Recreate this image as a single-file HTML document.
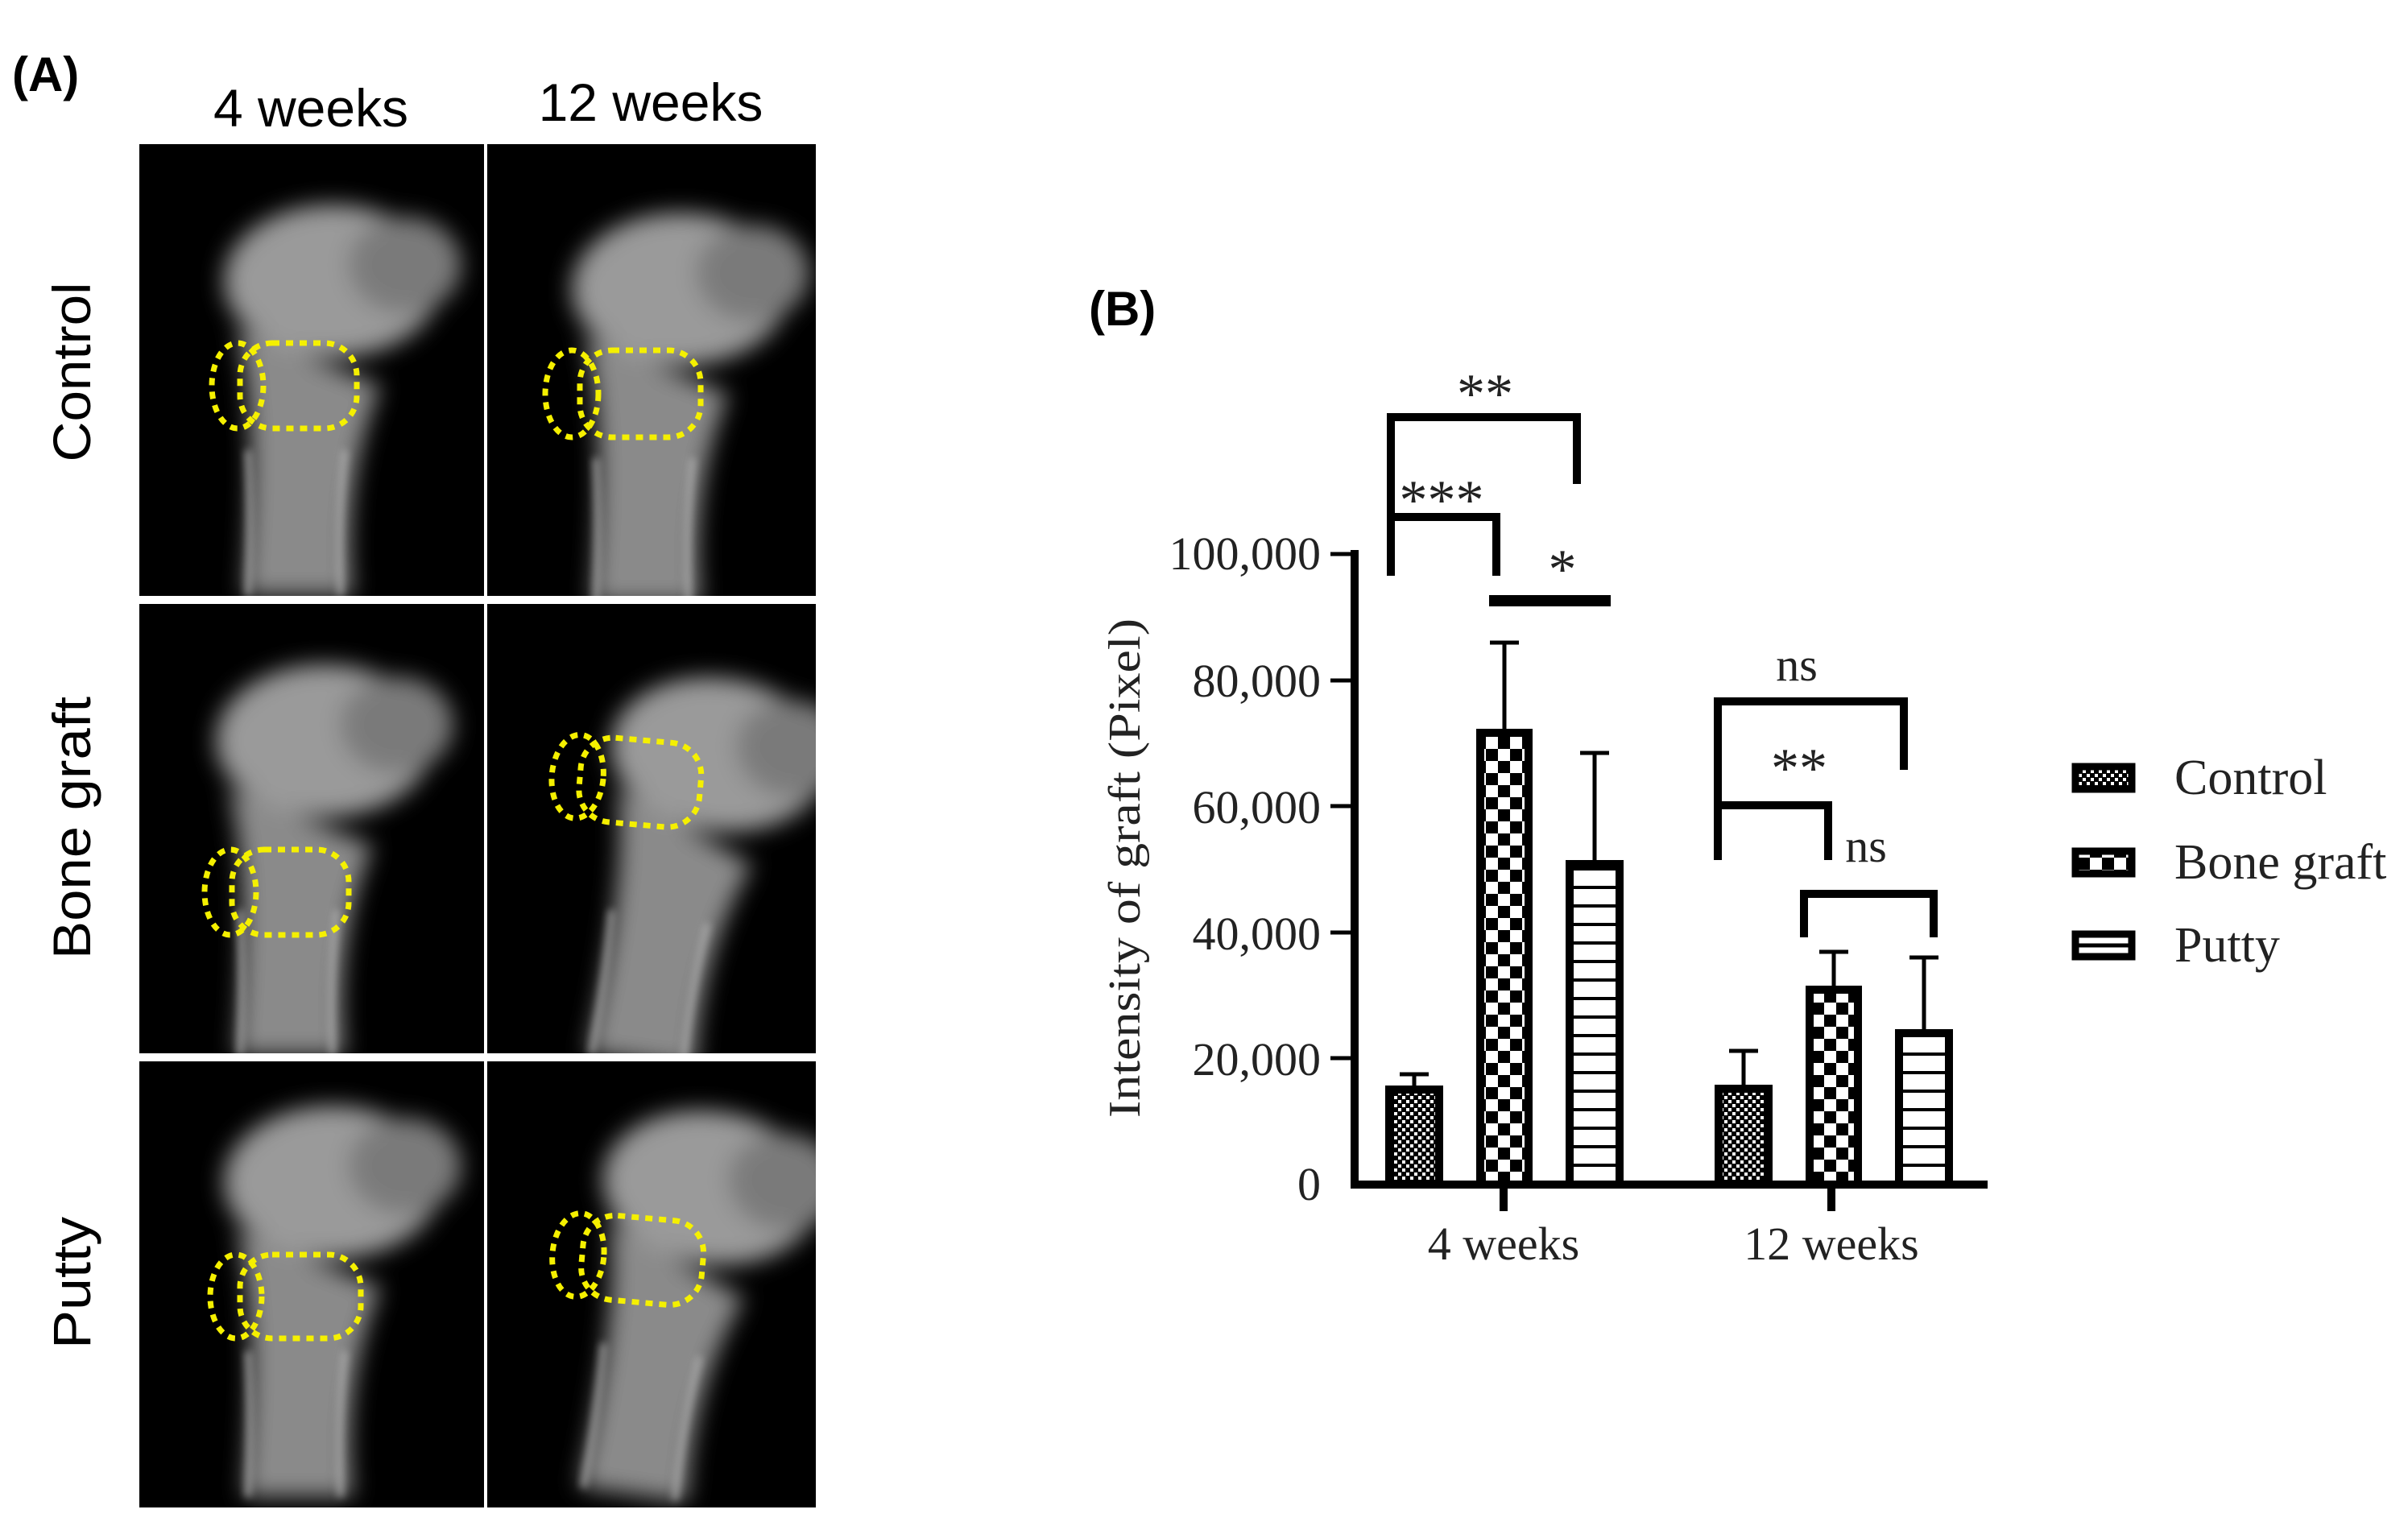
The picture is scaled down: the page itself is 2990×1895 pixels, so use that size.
<!DOCTYPE html>
<html><head><meta charset="utf-8"><style>
html,body{margin:0;padding:0;background:#fff;}
svg{display:block;}
</style></head><body>
<svg width="2990" height="1895" viewBox="0 0 2990 1895" xmlns="http://www.w3.org/2000/svg">
<defs>
<pattern id="pc" width="10" height="10" patternUnits="userSpaceOnUse">
<rect width="10" height="10" fill="#000"/><rect x="1" y="1" width="4" height="4" fill="#fff"/><rect x="6" y="6" width="4" height="4" fill="#fff"/>
</pattern>
<pattern id="pb" width="30" height="30" patternUnits="userSpaceOnUse">
<rect width="30" height="30" fill="#000"/><rect x="0" y="0" width="15" height="15" fill="#fff"/><rect x="15" y="15" width="15" height="15" fill="#fff"/>
</pattern>
<pattern id="pp" width="10" height="23" patternUnits="userSpaceOnUse">
<rect width="10" height="23" fill="#fff"/><rect y="19" width="10" height="4" fill="#000"/>
</pattern>
<filter id="bl" x="-30%" y="-30%" width="160%" height="160%"><feGaussianBlur stdDeviation="14"/></filter>
<filter id="bl2"><feGaussianBlur stdDeviation="5"/></filter>
<g id="bone">
<g filter="url(#bl)">
<ellipse cx="240" cy="170" rx="135" ry="95" fill="#9a9a9a"/>
<ellipse cx="330" cy="150" rx="70" ry="60" fill="#7a7a7a"/>
<path d="M120 230 Q150 330 130 561 L265 561 Q250 420 300 300 Z" fill="#8a8a8a"/>
</g>
<g filter="url(#bl2)" fill="none" stroke="#b8b8b8" stroke-width="8" opacity="0.7">
<path d="M135 380 Q140 470 135 561"/><path d="M255 380 Q245 470 250 561"/>
</g>
</g>
</defs>

<text x="15" y="113" font-family="Liberation Sans, sans-serif" font-weight="bold" font-size="60">(A)</text>
<text x="386" y="157" text-anchor="middle" font-family="Liberation Sans, sans-serif" font-size="66">4 weeks</text>
<text x="808" y="150" text-anchor="middle" font-family="Liberation Sans, sans-serif" font-size="66">12 weeks</text>
<text transform="translate(112,462) rotate(-90)" text-anchor="middle" font-family="Liberation Sans, sans-serif" font-size="66" textLength="223" lengthAdjust="spacingAndGlyphs">Control</text>
<text transform="translate(112,1028) rotate(-90)" text-anchor="middle" font-family="Liberation Sans, sans-serif" font-size="66" textLength="326" lengthAdjust="spacingAndGlyphs">Bone graft</text>
<text transform="translate(112,1593) rotate(-90)" text-anchor="middle" font-family="Liberation Sans, sans-serif" font-size="66" textLength="164" lengthAdjust="spacingAndGlyphs">Putty</text>

<g>
<svg x="173" y="179" width="428" height="561"><rect width="428" height="561" fill="#000"/><use href="#bone"/>
<g fill="none" stroke="#f5f000" stroke-width="7" stroke-dasharray="9 8"><rect x="125" y="247" width="145" height="106" rx="40"/><ellipse cx="122" cy="300" rx="32" ry="53"/></g></svg>
<svg x="605" y="179" width="408" height="561"><rect width="408" height="561" fill="#000"/><g transform="translate(0,10)"><use href="#bone"/></g>
<g fill="none" stroke="#f5f000" stroke-width="7" stroke-dasharray="9 8"><rect x="115" y="256" width="150" height="108" rx="40"/><ellipse cx="105" cy="310" rx="33" ry="54"/></g></svg>
<svg x="173" y="750" width="428" height="558"><rect width="428" height="558" fill="#000"/><g transform="translate(-10,0)"><use href="#bone"/></g>
<g fill="none" stroke="#f5f000" stroke-width="7" stroke-dasharray="9 8"><rect x="115" y="305" width="145" height="106" rx="40"/><ellipse cx="113" cy="358" rx="32" ry="53"/></g></svg>
<svg x="605" y="750" width="408" height="558"><rect width="408" height="558" fill="#000"/><g transform="translate(30,10) rotate(8 200 300)"><use href="#bone"/></g>
<g fill="none" stroke="#f5f000" stroke-width="7" stroke-dasharray="9 8" transform="rotate(5 200 220)"><rect x="115" y="170" width="150" height="105" rx="40"/><ellipse cx="112" cy="222" rx="32" ry="52"/></g></svg>
<svg x="173" y="1318" width="428" height="554"><rect width="428" height="554" fill="#000"/><g transform="translate(0,-20)"><use href="#bone"/></g>
<g fill="none" stroke="#f5f000" stroke-width="7" stroke-dasharray="9 8"><rect x="125" y="240" width="150" height="104" rx="40"/><ellipse cx="120" cy="292" rx="32" ry="52"/></g></svg>
<svg x="605" y="1318" width="408" height="554"><rect width="408" height="554" fill="#000"/><g transform="translate(20,-20) rotate(8 200 300)"><use href="#bone"/></g>
<g fill="none" stroke="#f5f000" stroke-width="7" stroke-dasharray="9 8" transform="rotate(5 200 220)"><rect x="120" y="195" width="150" height="105" rx="40"/><ellipse cx="115" cy="248" rx="32" ry="52"/></g></svg>
</g>

<text x="1352" y="404" font-family="Liberation Sans, sans-serif" font-weight="bold" font-size="60">(B)</text>
<g font-family="Liberation Serif, serif" font-size="58" fill="#222" text-anchor="end">
<text x="1640" y="707">100,000</text>
<text x="1640" y="865">80,000</text>
<text x="1640" y="1022">60,000</text>
<text x="1640" y="1179">40,000</text>
<text x="1640" y="1335">20,000</text>
<text x="1640" y="1490">0</text>
</g>
<text transform="translate(1415,1078) rotate(-90)" text-anchor="middle" font-family="Liberation Serif, serif" font-size="56" fill="#222" textLength="620" lengthAdjust="spacingAndGlyphs">Intensity of graft (Pixel)</text>
<g stroke="#000" stroke-width="5">
<line x1="1652" y1="688" x2="1682" y2="688"/><line x1="1652" y1="845" x2="1682" y2="845"/>
<line x1="1652" y1="1001" x2="1682" y2="1001"/><line x1="1652" y1="1158" x2="1682" y2="1158"/>
<line x1="1652" y1="1314" x2="1682" y2="1314"/>
</g>
<g stroke="#000" stroke-width="5">
<line x1="1756" y1="1348" x2="1756" y2="1334"/><line x1="1738" y1="1334" x2="1774" y2="1334"/>
<line x1="1868" y1="905" x2="1868" y2="798"/><line x1="1850" y1="798" x2="1886" y2="798"/>
<line x1="1980" y1="1068" x2="1980" y2="935"/><line x1="1962" y1="935" x2="1998" y2="935"/>
<line x1="2165" y1="1347" x2="2165" y2="1305"/><line x1="2147" y1="1305" x2="2183" y2="1305"/>
<line x1="2277" y1="1224" x2="2277" y2="1182"/><line x1="2259" y1="1182" x2="2295" y2="1182"/>
<line x1="2389" y1="1278" x2="2389" y2="1189"/><line x1="2371" y1="1189" x2="2407" y2="1189"/>
</g>
<g stroke="#000" stroke-width="10">
<rect x="1725" y="1353" width="62" height="118" fill="url(#pc)"/>
<rect x="1838" y="910" width="60" height="561" fill="url(#pb)"/>
<rect x="1949" y="1073" width="62" height="398" fill="url(#pp)"/>
<rect x="2134" y="1352" width="62" height="119" fill="url(#pc)"/>
<rect x="2247" y="1229" width="60" height="242" fill="url(#pb)"/>
<rect x="2358" y="1283" width="62" height="188" fill="url(#pp)"/>
</g>
<g stroke="#000" stroke-width="10" fill="none">
<line x1="1682" y1="683" x2="1682" y2="1476"/>
<line x1="1677" y1="1471" x2="2468" y2="1471"/>
<line x1="1867" y1="1471" x2="1867" y2="1504"/>
<line x1="2274" y1="1471" x2="2274" y2="1504"/>
<polyline points="1727,715 1727,518 1958,518 1958,601"/>
<polyline points="1727,642 1858,642 1858,715"/>
<polyline points="2133,1068 2133,871 2364,871 2364,956"/>
<polyline points="2133,1000 2270,1000 2270,1068"/>
<polyline points="2240,1164 2240,1110 2401,1110 2401,1164"/>
</g>
<line x1="1849" y1="746" x2="2000" y2="746" stroke="#000" stroke-width="14"/>
<g font-family="Liberation Serif, serif" font-size="70" fill="#222" text-anchor="middle">
<text x="1844" y="512">**</text>
<text x="1790" y="644">***</text>
<text x="1940" y="730">*</text>
<text x="2234" y="977">**</text>
</g>
<g font-family="Liberation Serif, serif" font-size="58" fill="#222" text-anchor="middle">
<text x="2231" y="845">ns</text>
<text x="2317" y="1070">ns</text>
<text x="1867" y="1564">4 weeks</text>
<text x="2274" y="1564">12 weeks</text>
</g>
<g stroke="#000" stroke-width="9">
<rect x="2577" y="952" width="70" height="28" fill="url(#pc)"/>
<rect x="2577" y="1057" width="70" height="28" fill="url(#pb)"/>
<rect x="2577" y="1160" width="70" height="28" fill="#fff"/>
</g>
<line x1="2577" y1="1174" x2="2647" y2="1174" stroke="#000" stroke-width="5"/>
<g font-family="Liberation Serif, serif" font-size="62" fill="#222">
<text x="2700" y="986">Control</text>
<text x="2700" y="1091">Bone graft</text>
<text x="2700" y="1194">Putty</text>
</g>
</svg>
</body></html>
